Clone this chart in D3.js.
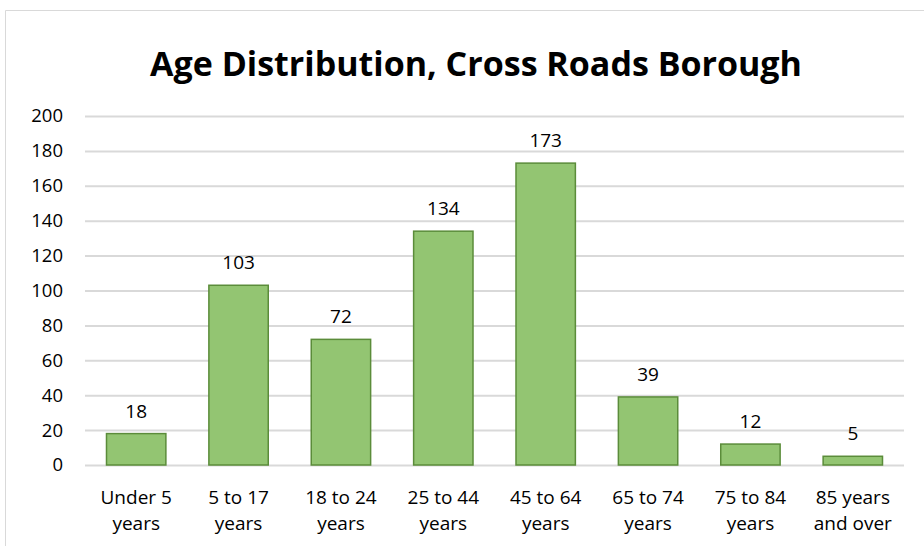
<!DOCTYPE html>
<html>
<head>
<meta charset="utf-8">
<script src="https://cdn.jsdelivr.net/npm/d3@7"></script>
<style>
  body { margin: 0; background: #fff; }
  text { font-family: "Open Sans", "Noto Sans", sans-serif; fill: #000; }
</style>
</head>
<body>
<svg id="chart" width="924" height="546"></svg>
<script>
// Age groups and population counts
const categories = [
  ["Under 5", "years"],
  ["5 to 17", "years"],
  ["18 to 24", "years"],
  ["25 to 44", "years"],
  ["45 to 64", "years"],
  ["65 to 74", "years"],
  ["75 to 84", "years"],
  ["85 years", "and over"]
];
const values = [18, 103, 72, 134, 173, 39, 12, 5];
const yTicks = [0, 20, 40, 60, 80, 100, 120, 140, 160, 180, 200];
const titleText = "Age Distribution, Cross Roads Borough";

const svg = d3.select("#chart");
const margin = { top: 116, right: 20, bottom: 81, left: 85 };
const innerWidth = 904 - margin.left;
const innerHeight = 465 - margin.top;

// chart area border (only top and left visible)
svg.append("path")
  .attr("d", "M5.5,546 V10.5 H924")
  .attr("fill", "none")
  .attr("stroke", "#d9d9d9")
  .attr("stroke-width", 1);

svg.append("text")
  .attr("x", 476)
  .attr("y", 76)
  .attr("text-anchor", "middle")
  .style("font-size", "34px")
  .style("font-weight", "bold")
  .text(titleText);

const data = categories.map((c, i) => ({ key: c.join(" "), lines: c, value: values[i] }));

const xScale = d3.scaleBand()
  .domain(data.map(d => d.key))
  .range([0, innerWidth])
  .paddingInner(0.42)
  .paddingOuter(0.21);

const yScale = d3.scaleLinear()
  .domain([0, 200])
  .range([innerHeight, 0]);

const g = svg.append("g")
  .attr("transform", `translate(${margin.left},${margin.top})`);

// gridlines + y labels
const yAxisG = g.append("g")
  .call(d3.axisLeft(yScale).tickValues(yTicks).tickSize(-innerWidth).tickPadding(22));
yAxisG.select(".domain").remove();
yAxisG.selectAll(".tick line").attr("stroke", "#d9d9d9").attr("stroke-width", 2);
yAxisG.selectAll(".tick text")
  .style("font-size", "18.5px")
  .attr("fill", "#000");

// x labels (two lines)
const xAxisG = g.append("g")
  .attr("transform", `translate(0,${innerHeight})`)
  .call(d3.axisBottom(xScale).tickSize(0).tickFormat(""));
xAxisG.select(".domain").remove();
xAxisG.selectAll(".tick text").remove();
xAxisG.selectAll(".tick")
  .append("text")
  .attr("text-anchor", "middle")
  .style("font-size", "19px")
  .attr("fill", "#000")
  .each(function (key) {
    const d = data.find(e => e.key === key);
    const t = d3.select(this);
    d.lines.forEach((line, i) => {
      t.append("tspan").attr("x", 0).attr("y", 39 + i * 26).text(line);
    });
  });

// bars
g.selectAll("rect.bar")
  .data(data)
  .enter()
  .append("rect")
  .attr("class", "bar")
  .attr("x", d => xScale(d.key))
  .attr("y", d => yScale(d.value))
  .attr("width", xScale.bandwidth())
  .attr("height", d => innerHeight - yScale(d.value))
  .attr("fill", "#93c572")
  .attr("stroke", "#5b8c3a")
  .attr("stroke-width", 1.5);

// data labels
g.selectAll("text.label")
  .data(data)
  .enter()
  .append("text")
  .attr("class", "label")
  .attr("x", d => xScale(d.key) + xScale.bandwidth() / 2)
  .attr("y", d => yScale(d.value) - 16)
  .attr("text-anchor", "middle")
  .style("font-size", "19px")
  .text(d => d.value);
</script>
</body>
</html>
